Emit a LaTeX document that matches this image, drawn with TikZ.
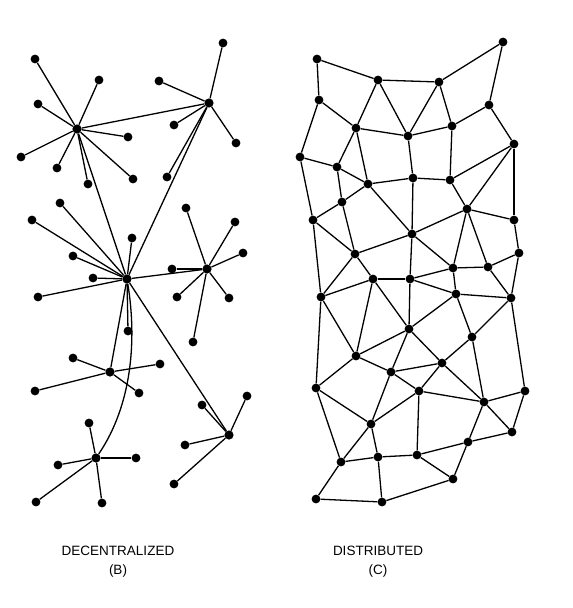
\documentclass[tikz,border=0pt]{standalone}
\usepackage{fontspec}
\setmainfont{Liberation Sans}
\begin{document}
\begin{tikzpicture}[x=1pt,y=-1pt,
  dot/.style={circle,fill=black,inner sep=0pt,minimum size=8.8pt},
  hub/.style={dot,minimum size=9.2pt},
  link/.style={line width=1.3pt,black},
  lbl/.style={align=center,font=\fontsize{13.5}{19}\selectfont}]
\useasboundingbox[fill=white] (0,0) rectangle (573,608);
% ---------- Decentralized ----------
\foreach \n/\x/\y in {A/77/129,B/209/103,C/127/279,D/207/269,E/110/372,F/96/458,G/229/435}
  \node[hub] (\n) at (\x,\y) {};
\foreach \n/\x/\y in {a1/35/59,a2/99/80,a3/38/104,a4/128/137,a5/21/157,a6/57/168,a7/88/184,a8/133/179,
  b1/223/43,b2/159/81,b3/174/125,b4/236/143,b5/167/177,
  c1/60/203,c2/32/220,c3/132/238,c4/73/256,c5/93/278,c6/38/297,c7/128/331,
  d1/186/208,d2/235/222,d3/243/253,d4/172/269,d5/177/297,d6/229/298,d7/193/342,
  e1/73/358,e2/160/364,e3/35/391,e4/139/393,
  f1/89/423,f2/58/465,f3/136/458,f4/36/502,f5/102/503,
  g1/247/396,g2/202/405,g3/185/445,g4/174/484}
  \node[dot] (\n) at (\x,\y) {};
\foreach \h/\l in {A/a1,A/a2,A/a3,A/a4,A/a5,A/a6,A/a7,A/a8,
  B/b1,B/b2,B/b3,B/b4,B/b5,
  C/c1,C/c2,C/c3,C/c4,C/c5,C/c6,C/c7,
  D/d1,D/d2,D/d3,D/d4,D/d5,D/d6,D/d7,
  E/e1,E/e2,E/e3,E/e4,
  F/f1,F/f2,F/f3,F/f4,F/f5,
  G/g1,G/g2,G/g3,G/g4,
  A/B,A/C,B/C,C/D,C/E,C/G}
  \draw[link] (\h) -- (\l);
\draw[link] (C) .. controls (137,340) and (132,405) .. (F);
% ---------- Distributed ----------
\foreach \n/\x/\y in {n1/317/59,n2/503/42,n3/378/80,n4/439/82,n5/319/100,n6/489/105,n7/356/128,
  n8/408/136,n9/452/126,n10/514/144,n11/300/157,n12/337/167,n13/368/184,n14/413/178,n15/450/180,
  n16/342/202,n17/467/209,m3/313/220,m4/514/220,m5/412/234,m6/519/253,m7/355/254,m8/453/268,
  m9/488/267,m10/373/279,m11/410/279,m12/321/297,m13/456/294,m14/511/298,m15/409/329,m16/472/337,
  p1/356/356,p2/391/372,p3/442/363,p4/316/388,p5/419/391,p6/484/402,p7/525/391,p8/371/424,
  p9/512/432,p10/468/442,p11/341/462,p12/378/457,p13/417/455,p14/453/479,p15/316/499,p16/382/502}
  \node[dot] (\n) at (\x,\y) {};
\foreach \u/\v in {n1/n3,n1/n5,n3/n4,n4/n2,n2/n6,n3/n7,n3/n8,n4/n8,n4/n9,n5/n7,n5/n11,n7/n8,n8/n9,
  n9/n6,n6/n10,n7/n12,n7/n13,n8/n14,n9/n15,
  n11/n12,n11/m3,n12/n13,n12/n16,n13/n14,n14/n15,n15/n10,n15/n17,n10/n17,n10/m4,n16/n13,n16/m3,
  n16/m7,n13/m5,n14/m5,n17/m5,n17/m8,n17/m9,n17/m4,
  m3/m7,m3/m12,m5/m7,m5/m8,m5/m11,m4/m6,m6/m9,m6/m14,m7/m10,m7/m12,m8/m9,m8/m11,m8/m13,m9/m14,
  m10/m11,m10/m12,m11/m13,m13/m14,
  m10/m15,m11/m15,m13/m15,m13/m16,m14/m16,m14/p7,m12/p4,m12/p1,m10/p1,
  m15/p1,m15/p2,m15/p3,m16/p3,m16/p6,p1/p2,p1/p4,p2/p3,p2/p5,p2/p8,p3/p5,p3/p6,p5/p6,p5/p8,
  p5/p13,p6/p7,p6/p10,p6/p9,p7/p9,p4/p8,p4/p11,p8/p11,p8/p12,p11/p12,p11/p15,p12/p13,p12/p16,
  p13/p14,p13/p10,p10/p14,p10/p9,p15/p16,p16/p14}
  \draw[link] (\u) -- (\v);
% ---------- Labels ----------
\node[lbl] (lb) at (118,562) {DECENTRALIZED\\(B)};
\node[lbl] (lc) at (378,562) {DISTRIBUTED\\(C)};
\end{tikzpicture}
\end{document}
